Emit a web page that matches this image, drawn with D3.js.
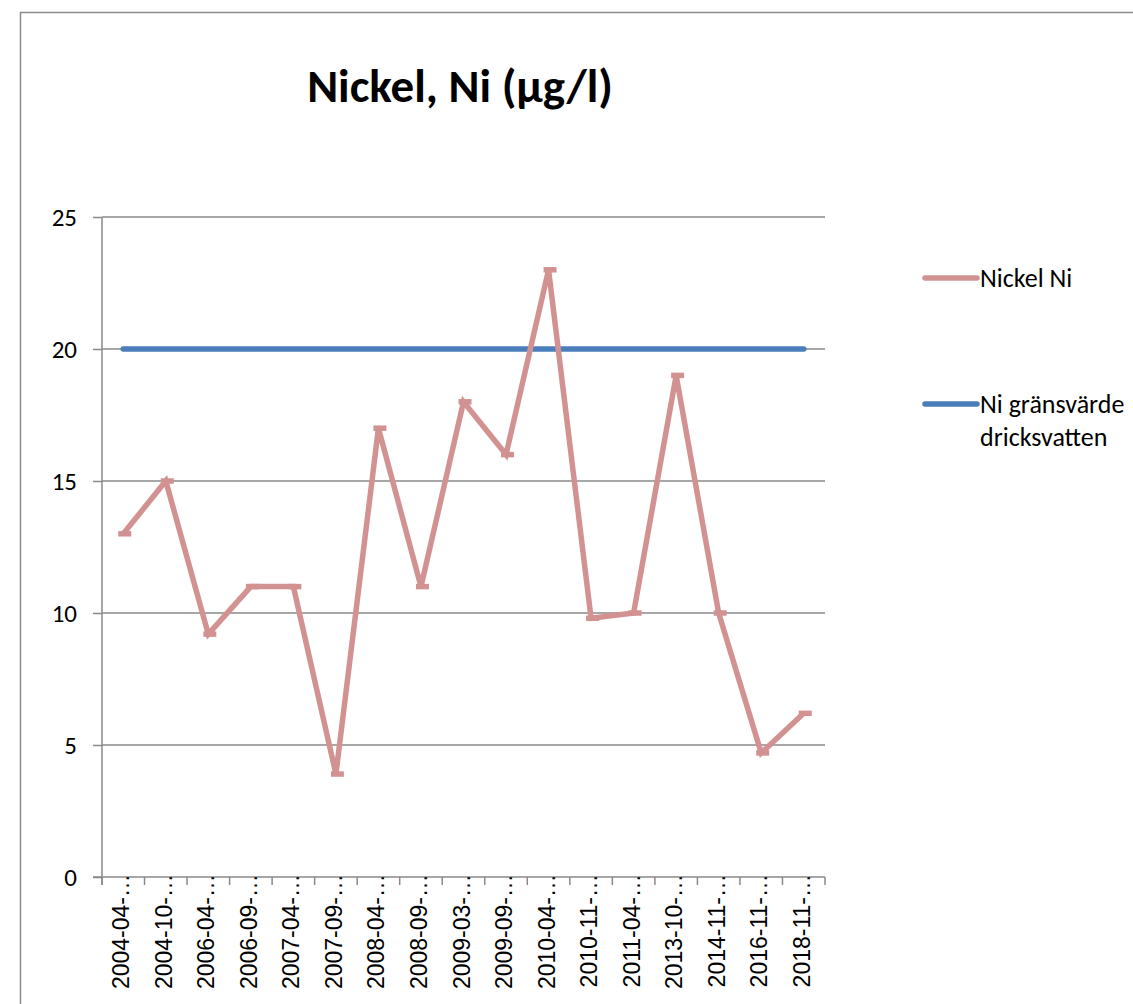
<!DOCTYPE html>
<html>
<head>
<meta charset="utf-8">
<script src="https://cdn.jsdelivr.net/npm/d3@7"></script>
<style>
  html, body { margin: 0; padding: 0; background: #fff; }
  svg { display: block; }
</style>
</head>
<body>
<svg id="chart" width="1133" height="1004"></svg>
<script>
// Sample dates (truncated as shown on the axis)
const categories = [
  "2004-04-…", "2004-10-…", "2006-04-…", "2006-09-…", "2007-04-…", "2007-09-…",
  "2008-04-…", "2008-09-…", "2009-03-…", "2009-09-…", "2010-04-…", "2010-11-…",
  "2011-04-…", "2013-10-…", "2014-11-…", "2016-11-…", "2018-11-…"
];
// Measured nickel concentration, µg/l
const nickelValues = [13, 15, 9.2, 11, 11, 3.9, 17, 11, 18, 16, 23, 9.8, 10, 19, 10, 4.7, 6.2];
// Drinking-water limit value, µg/l
const limitValues = [20, 20, 20, 20, 20, 20, 20, 20, 20, 20, 20, 20, 20, 20, 20, 20, 20];
const yTicks = [0, 5, 10, 15, 20, 25];

const seriesNames = ["Nickel Ni", ["Ni gränsvärde", "dricksvatten"]];
const colors = { nickel: "#D39292", limit: "#4A7EBB", axis: "#8a8a8a" };
const uiFont = "Carlito, Calibri, Lato, 'Open Sans', sans-serif";

const svg = d3.select("#chart");
const plot = { left: 102, right: 825, top: 217, bottom: 877 };

// Outer chart frame
svg.append("rect")
  .attr("x", 20.5).attr("y", 12.5)
  .attr("width", 1200).attr("height", 1100)
  .attr("fill", "none").attr("stroke", "#8c8c8c").attr("stroke-width", 1.5);

// Title
svg.append("text")
  .attr("x", 460).attr("y", 102)
  .attr("text-anchor", "middle")
  .attr("font-family", uiFont)
  .attr("font-weight", "bold")
  .attr("font-size", 47)
  .text("Nickel, Ni (µg/l)");

const x = d3.scaleBand().domain(categories).range([plot.left, plot.right]);
const y = d3.scaleLinear().domain([0, 25]).range([plot.bottom, plot.top]);
const cx = d => x(d) + x.bandwidth() / 2;

// Horizontal gridlines
svg.append("g")
  .selectAll("line")
  .data(yTicks.filter(t => t > 0))
  .join("line")
  .attr("x1", plot.left).attr("x2", plot.right)
  .attr("y1", d => y(d)).attr("y2", d => y(d))
  .attr("stroke", colors.axis).attr("stroke-width", 1.5);

// Y axis
const yAxis = svg.append("g")
  .attr("transform", `translate(${plot.left},0)`)
  .call(d3.axisLeft(y).tickValues(yTicks).tickSize(9).tickPadding(16).tickSizeOuter(0));
yAxis.select(".domain").remove();
yAxis.append("line")
  .attr("y1", plot.top).attr("y2", plot.bottom + 8)
  .attr("stroke", colors.axis).attr("stroke-width", 1.5);
yAxis.selectAll(".tick line").attr("stroke", colors.axis).attr("stroke-width", 1.5);
yAxis.selectAll(".tick text")
  .attr("font-family", uiFont)
  .attr("font-size", 25).attr("fill", "#000");

// X axis with ticks on category boundaries
const xAxisG = svg.append("g").attr("transform", `translate(0,${plot.bottom})`);
xAxisG.append("line")
  .attr("x1", plot.left - 9).attr("x2", plot.right)
  .attr("stroke", colors.axis).attr("stroke-width", 1.5);
const boundaries = categories.map(c => x(c)).concat([plot.right]);
xAxisG.selectAll("line.tick")
  .data(boundaries)
  .join("line").attr("class", "tick")
  .attr("x1", d => d).attr("x2", d => d)
  .attr("y1", 0).attr("y2", 8)
  .attr("stroke", colors.axis).attr("stroke-width", 1.5);
xAxisG.selectAll("text")
  .data(categories)
  .join("text")
  .attr("transform", d => `translate(${cx(d) + 6},-3) rotate(-90)`)
  .attr("text-anchor", "end")
  .attr("font-family", "'Liberation Sans', Arial, sans-serif")
  .attr("font-size", 23)
  .attr("fill", "#000")
  .text(d => d);

// Limit line
const line = d3.line().x((d, i) => cx(categories[i])).y(d => y(d));
svg.append("path")
  .datum(limitValues)
  .attr("d", line)
  .attr("fill", "none")
  .attr("stroke", colors.limit).attr("stroke-width", 5.5)
  .attr("stroke-linecap", "round");

// Nickel series
svg.append("path")
  .datum(nickelValues)
  .attr("d", line)
  .attr("fill", "none")
  .attr("stroke", colors.nickel).attr("stroke-width", 5.5)
  .attr("stroke-linejoin", "miter");

// Dash markers
svg.append("g")
  .selectAll("line")
  .data(nickelValues)
  .join("line")
  .attr("x1", (d, i) => cx(categories[i]) - 5)
  .attr("x2", (d, i) => cx(categories[i]) + 8)
  .attr("y1", d => y(d)).attr("y2", d => y(d))
  .attr("stroke", colors.nickel).attr("stroke-width", 5.5);

// Legend
const legend = svg.append("g")
  .attr("font-family", uiFont)
  .attr("font-size", 26);
const legendItems = [
  { color: colors.nickel, y: 278, label: seriesNames[0] },
  { color: colors.limit, y: 404, label: seriesNames[1] }
];
legendItems.forEach(item => {
  legend.append("line")
    .attr("x1", 925).attr("x2", 977)
    .attr("y1", item.y).attr("y2", item.y)
    .attr("stroke", item.color).attr("stroke-width", 5.5)
    .attr("stroke-linecap", "round");
  const lines = Array.isArray(item.label) ? item.label : [item.label];
  const t = legend.append("text").attr("x", 980).attr("y", item.y + 9);
  lines.forEach((l, i) => {
    t.append("tspan").attr("x", 980).attr("dy", i === 0 ? 0 : 33).text(l);
  });
});
</script>
</body>
</html>
